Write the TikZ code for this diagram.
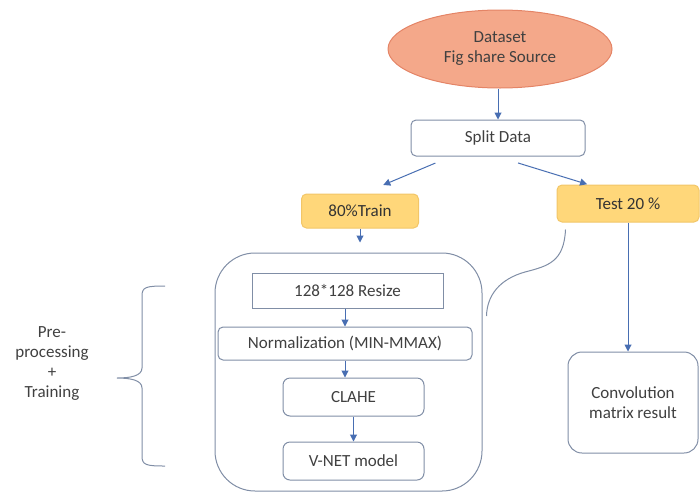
\documentclass[tikz,border=0pt]{standalone}
\usepackage{fontspec}
\setmainfont{Carlito}
\usepackage{tikz}
\usepackage{xcolor}
\usetikzlibrary{positioning}
\usetikzlibrary{shapes.geometric}
\usetikzlibrary{arrows.meta}
\definecolor{salmon}{RGB}{244,168,138}
\definecolor{salmonline}{RGB}{228,132,102}
\definecolor{sand}{RGB}{255,215,122}
\definecolor{sandline}{RGB}{242,198,104}
\definecolor{frame}{RGB}{128,142,166}
\definecolor{flowblue}{RGB}{72,110,178}
\definecolor{ink}{RGB}{64,64,64}
\tikzstyle{source}=[ellipse, fill=salmon, draw=salmonline, line width=1pt, align=center, minimum width=224pt, minimum height=78pt]
\tikzstyle{stage}=[draw=frame, line width=1pt, rounded corners=5pt, fill=white, align=center]
\tikzstyle{share}=[draw=sandline, line width=1pt, rounded corners=5pt, fill=sand, text=black!80]
\tikzstyle{flow}=[-{Triangle[width=7pt,length=7pt]}, draw=flowblue, line width=1pt]
\tikzstyle{bracket}=[draw=frame, line width=1pt]

\begin{document}
\begin{tikzpicture}[x=1pt, y=-1pt, every node/.style={font=\fontsize{17}{20}\selectfont, text=ink}]
    \useasboundingbox (0,0) rectangle (700,493);

    \node[source] (dataset) at (500,49)                                  {Dataset\\Fig share Source};
    \node[stage, minimum width=174pt, minimum height=36pt] (split) [below=31pt of dataset, xshift=-2pt] {Split Data};
    \node[share, minimum width=117pt, minimum height=34pt] (train) at (360,211)   {80\%Train};
    \node[share, minimum width=142pt, minimum height=37pt] (test)  at (628,203.5) {Test 20 \%};

    % training part
    \node[stage, rounded corners=40pt, minimum width=267pt, minimum height=238pt] (pipeline) at (348.5,372) {};
    \node[stage, sharp corners, minimum width=191pt, minimum height=35pt] (resize) at (347.5,290.5) {128*128 Resize};
    \node[stage, minimum width=254pt, minimum height=33pt] (norm)  [below=18pt of resize, xshift=-2.5pt] {Normalization (MIN-MMAX)};
    \node[stage, rounded corners=7pt, minimum width=141pt, minimum height=38pt] (clahe) [below=17pt of norm, xshift=8.5pt] {CLAHE};
    \node[stage, rounded corners=7pt, minimum width=141pt, minimum height=38pt] (vnet)  [below=25pt of clahe] {V-NET model};

    % test part
    \node[stage, rounded corners=14pt, minimum width=130pt, minimum height=101pt] (conv) at (633,402.5) {Convolution\\matrix result};

    \node[align=center] (phase) at (52,363) {Pre-\\processing\\+\\Training};

    \draw[flow] (split.north |- dataset.south) -- (split.north);
    \draw[flow, shorten <=17pt, shorten >=22pt] ([xshift=-47pt]split.south) -- ([xshift=3pt]train.north);
    \draw[flow, shorten <=22pt, shorten >=1pt]  ([xshift=-1pt]split.south)  -- ([xshift=-40pt]test.north);
    \draw[flow, shorten >=10pt] (train.south) -- (train.south |- pipeline.north);
    \draw[flow] (norm.north |- resize.south) -- (norm.north);
    \draw[flow] (norm.south) -- (norm.south |- clahe.north);
    \draw[flow] (clahe) -- (vnet);
    \draw[flow] (test.south) -- (test.south |- conv.north);

    \draw[bracket] ([xshift=9pt, yshift=-7pt]test.south west) .. controls (564,262) and (548,266) .. (525,272)
                   .. controls (500,279) and (487,295) .. ([xshift=4pt, yshift=56pt]pipeline.east);

    \draw[bracket] (165,286) .. controls (146,286) and (142,287) .. (142,296) -- (142,368)
                   .. controls (142,376) and (130,378) .. (117,378)
                   .. controls (130,378) and (142,380) .. (142,388) -- (142,456)
                   .. controls (142,465) and (146,466) .. (165,466);
  \end{tikzpicture}
\end{document}
